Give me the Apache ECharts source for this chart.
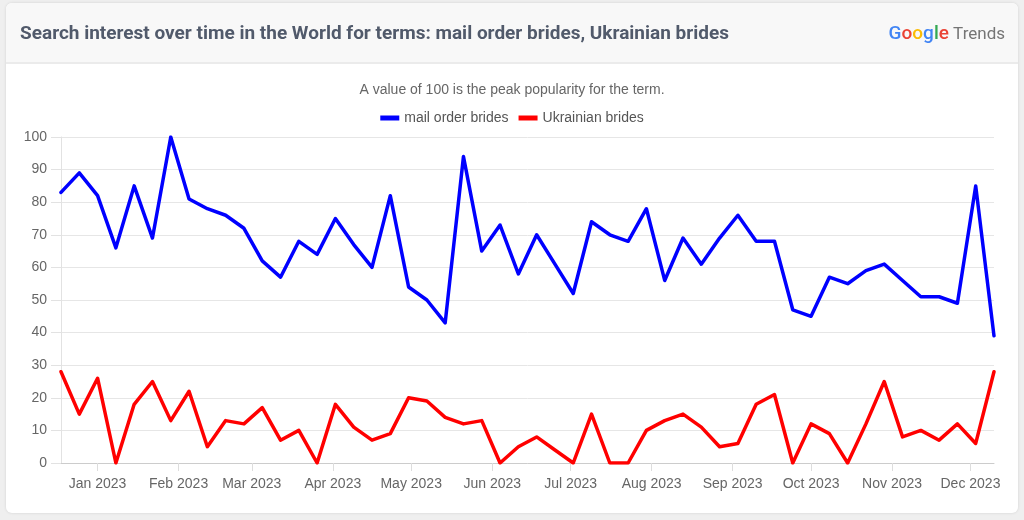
<!DOCTYPE html>
<html>
<head>
<meta charset="utf-8">
<script src="https://cdn.jsdelivr.net/npm/echarts@6/dist/echarts.min.js"></script>
<style>
  html, body { margin: 0; padding: 0; width: 1024px; height: 520px; background: #efefef; overflow: hidden; }
  #card { position: absolute; left: 6px; top: 3px; width: 1012px; height: 510px; background: #ffffff; border-radius: 6px; box-shadow: 0 0 3px rgba(0,0,0,0.12); overflow: hidden; }
  #header { position: absolute; left: 0; top: 0; width: 1012px; height: 59px; background: #f8f8f8; border-bottom: 2px solid #ebebeb; }
  #chart { position: absolute; left: 0; top: 0; width: 1024px; height: 520px; }
</style>
</head>
<body>
<div id="card"><div id="header"></div></div>
<div id="chart"></div>
<script>
const weeks = [
  '2022-12-18','2022-12-25','2023-01-01','2023-01-08','2023-01-15','2023-01-22','2023-01-29',
  '2023-02-05','2023-02-12','2023-02-19','2023-02-26','2023-03-05','2023-03-12','2023-03-19',
  '2023-03-26','2023-04-02','2023-04-09','2023-04-16','2023-04-23','2023-04-30','2023-05-07',
  '2023-05-14','2023-05-21','2023-05-28','2023-06-04','2023-06-11','2023-06-18','2023-06-25',
  '2023-07-02','2023-07-09','2023-07-16','2023-07-23','2023-07-30','2023-08-06','2023-08-13',
  '2023-08-20','2023-08-27','2023-09-03','2023-09-10','2023-09-17','2023-09-24','2023-10-01',
  '2023-10-08','2023-10-15','2023-10-22','2023-10-29','2023-11-05','2023-11-12','2023-11-19',
  '2023-11-26','2023-12-03','2023-12-10'
];
const mailOrderBrides = [
  83, 89, 82, 66, 85, 69, 100, 81, 78, 76, 72, 62, 57, 68, 64, 75, 67, 60, 82, 54,
  50, 43, 94, 65, 73, 58, 70, 61, 52, 74, 70, 68, 78, 56, 69, 61, 69, 76, 68, 68,
  47, 45, 57, 55, 59, 61, 56, 51, 51, 49, 85, 39
];
const ukrainianBrides = [
  28, 15, 26, 0, 18, 25, 13, 22, 5, 13, 12, 17, 7, 10, 0, 18, 11, 7, 9, 20,
  19, 14, 12, 13, 0, 5, 8, 4, 0, 15, 0, 0, 10, 13, 15, 11, 5, 6, 18, 21,
  0, 12, 9, 0, 12, 25, 8, 10, 7, 12, 6, 28
];
const monthNames = ['Jan','Feb','Mar','Apr','May','Jun','Jul','Aug','Sep','Oct','Nov','Dec'];
const seriesNames = ['mail order brides', 'Ukrainian brides'];
const seriesColors = ['#0000ff', '#ff0000'];

const chart = echarts.init(document.getElementById('chart'), null, { renderer: 'canvas' });
const font = '"Liberation Sans", Arial, Helvetica, sans-serif';

chart.setOption({
  backgroundColor: 'transparent',
  animation: false,
  title: [
    {
      text: 'Search interest over time in the World for terms: mail order brides, Ukrainian brides',
      left: 15, top: 20,
      textStyle: { fontFamily: 'Roboto', fontWeight: 'bold', fontSize: 19, color: '#515a6b' }
    },
    {
      text: '{b|G}{r|o}{y|o}{b|g}{g|l}{r|e} {t|Trends}',
      right: 14, top: 20,
      textStyle: {
        fontFamily: 'Roboto', fontSize: 17, fontWeight: 'normal',
        rich: {
          b: { color: '#4285F4', fontSize: 19, fontFamily: 'Roboto', fontWeight: 500 },
          r: { color: '#EA4335', fontSize: 19, fontFamily: 'Roboto', fontWeight: 500 },
          y: { color: '#FBBC05', fontSize: 19, fontFamily: 'Roboto', fontWeight: 500 },
          g: { color: '#34A853', fontSize: 19, fontFamily: 'Roboto', fontWeight: 500 },
          t: { color: '#757575', fontSize: 17, fontFamily: 'Roboto', fontWeight: 'normal' }
        }
      }
    },
    {
      text: 'A value of 100 is the peak popularity for the term.',
      left: 'center', top: 78,
      textStyle: { fontFamily: font, fontWeight: 'normal', fontSize: 14, color: '#666666' }
    }
  ],
  legend: {
    top: 106, left: 'center',
    icon: 'rect', itemWidth: 19, itemHeight: 5, itemGap: 10,
    textStyle: { fontFamily: font, fontSize: 14, color: '#555555' },
    data: seriesNames
  },
  grid: { left: 61, right: 30, top: 137, bottom: 57 },
  xAxis: {
    type: 'time',
    min: weeks[0], max: weeks[weeks.length - 1],
    minInterval: 28 * 86400000,
    maxInterval: 31 * 86400000,
    splitNumber: 12,
    axisLine: { lineStyle: { color: '#cccccc', width: 1 } },
    axisTick: { show: true, length: 8, lineStyle: { color: '#dddddd' } },
    splitLine: { show: false },
    axisLabel: {
      fontFamily: font, fontSize: 14, color: '#666666', margin: 14,
      showMinLabel: false, showMaxLabel: false,
      formatter: function (v) {
        const d = new Date(v);
        return monthNames[d.getMonth()] + ' ' + d.getFullYear();
      }
    }
  },
  yAxis: {
    type: 'value', min: 0, max: 100, interval: 10,
    axisLine: { show: true, lineStyle: { color: '#e2e2e2' } },
    axisTick: { show: true, length: 10, lineStyle: { color: '#e2e2e2' } },
    splitLine: { show: true, lineStyle: { color: '#e6e6e6', width: 1 } },
    axisLabel: { fontFamily: font, fontSize: 14, color: '#666666', margin: 14 }
  },
  series: seriesNames.map(function (name, i) {
    const vals = i === 0 ? mailOrderBrides : ukrainianBrides;
    return {
      name: name,
      type: 'line',
      showSymbol: false,
      symbol: 'none',
      color: seriesColors[i],
      lineStyle: { width: 3.5, color: seriesColors[i], join: 'round', cap: 'round' },
      itemStyle: { color: seriesColors[i] },
      data: weeks.map(function (w, k) { return [w, vals[k]]; })
    };
  })
});
</script>
</body>
</html>
